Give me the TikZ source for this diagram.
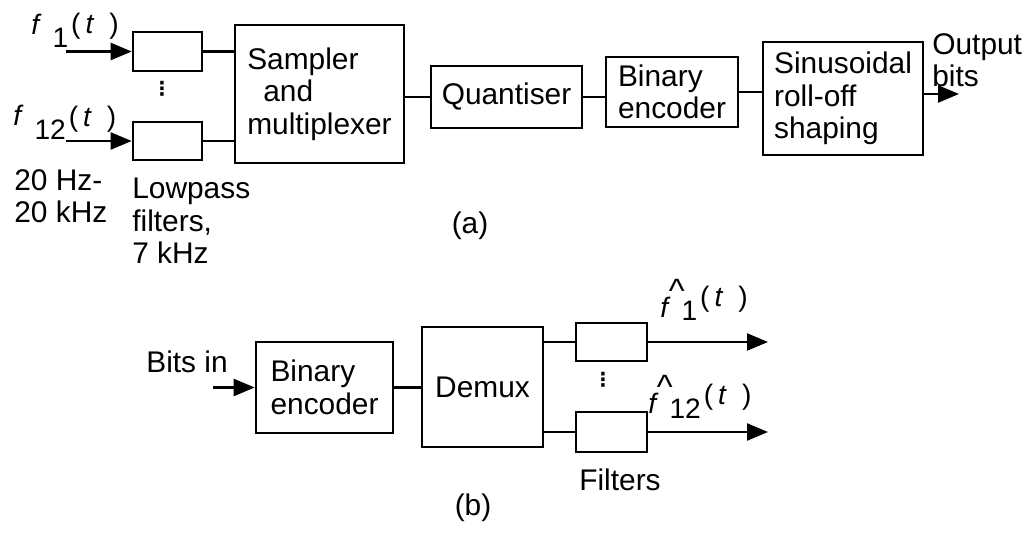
\documentclass[tikz,border=0pt]{standalone}
\usepackage{fontspec}
\setmainfont{Liberation Sans}
\newfontfamily\dotsfont{DejaVu Sans}
\usetikzlibrary{arrows.meta}

\newcommand{\fsig}[3]{\raisebox{#3}{#1}\hspace{0.22cm}#2\hspace{0.06cm}\raisebox{0.28cm}{(\hspace{0.1cm}\textit{t}\hspace{0.3cm})}}
\newcommand{\fhat}{\rlap{\hspace{0.17cm}\raisebox{0.29cm}{\scalebox{1.2}{\textasciicircum}}}\textit{f}}

\begin{document}
\begin{tikzpicture}[x=0.02cm, y=-0.02cm,
	blk/.style={draw, line width=1.5pt, inner sep=0, align=left, font=\fontsize{17}{18.5}\selectfont},
	txt/.style={inner sep=0, align=left, font=\fontsize{17}{18.5}\selectfont},
	lab/.style={inner sep=0, anchor=base west, font=\fontsize{16}{18}\selectfont},
	wire/.style={line width=1.3pt},
	sig/.style={line width=1.3pt, -{Triangle[length=0.42cm, width=0.34cm]}},
	dots/.style={inner sep=0, font=\dotsfont\bfseries\fontsize{11}{11}\selectfont}]

		\useasboundingbox (0,0) rectangle (1033,533);

		% (a) transmitter
		\node[blk, minimum width=1.38cm, minimum height=0.78cm] (lpfA) at (167.5,51.5) {};
		\node[blk, minimum width=1.38cm, minimum height=0.76cm] (lpfB) at (167.5,141) {};
		\node[blk, minimum width=3.38cm, minimum height=2.76cm] (mux) at (319.5,94) {Sampler\\\hspace*{0.32cm}and\\multiplexer};
		\node[blk, minimum width=3.02cm, minimum height=1.24cm] (quant) at (506.5,97) {Quantiser};
		\node[blk, minimum width=2.64cm, minimum height=1.4cm] (encA) at (672,92) {Binary\\encoder};
		\node[blk, minimum width=3.2cm, minimum height=2.26cm] (shape) at (843,98.5) {Sinusoidal\\roll-off\\shaping};

		\coordinate (inA) at (66,51.5);
		\coordinate (inB) at (66,141);
		\coordinate (bitsout) at (959,94);

		\draw[sig] (inA) -- (lpfA.west);
		\draw[sig] (inB) -- (lpfB.west);
		\draw[wire] (lpfA.east) -- (lpfA.east -| mux.west);
		\draw[wire] (lpfB.east) -- (lpfB.east -| mux.west);
		\draw[wire] (quant.west) -- (quant.west -| mux.east);
		\draw[wire] (quant.east) -- (quant.east -| encA.west);
		\draw[wire] (encA.east) -- (encA.east -| shape.west);
		\draw[sig] (shape.east |- bitsout) -- (bitsout);

		\node[lab] (fA) at (31,48) {\fsig{\textit{f}}{1}{0.26cm}};
		\node[lab] (fB) at (13,140) {\fsig{\textit{f}}{12}{0.3cm}};
		\node[dots] (dotsA) at (162,89) {⋮};
		\node[txt, anchor=west] (range) at (14,196) {20 Hz-\\20 kHz};
		\node[txt, anchor=west] (lpfnote) at (132,221) {Lowpass\\filters,\\7 kHz};
		\node[txt, anchor=west] (bitsA) at (932,60) {Output\\bits};
		\node[txt] (capA) at (470,226) {(a)};

		% (b) receiver
		\node[blk, minimum width=2.74cm, minimum height=1.82cm] (encB) at (324.5,387.5) {Binary\\encoder};
		\node[blk, minimum width=2.42cm, minimum height=2.4cm] (demux) at (482.5,387) {Demux};
		\node[blk, minimum width=1.42cm, minimum height=0.76cm] (filtA) at (611.5,342) {};
		\node[blk, minimum width=1.42cm, minimum height=0.8cm] (filtB) at (611.5,432) {};

		\coordinate (bitsin) at (213,387.5);
		\coordinate (outA) at (768,342);
		\coordinate (outB) at (768,432);

		\draw[sig] (bitsin) -- (encB.west);
		\draw[wire] (encB.east) -- (encB.east -| demux.west);
		\draw[wire] (filtA.west) -- (filtA.west -| demux.east);
		\draw[wire] (filtB.west) -- (filtB.west -| demux.east);
		\draw[sig] (filtA.east) -- (outA);
		\draw[sig] (filtB.east) -- (outB);

		\node[txt] (bitsB) at (187,362) {Bits in};
		\node[dots] (dotsB) at (603,380) {⋮};
		\node[txt, anchor=west] (filtnote) at (579,480) {Filters};
		\node[txt] (capB) at (473,508) {(b)};
		\node[lab] (fC) at (660,320) {\fsig{\fhat}{1}{0.06cm}};
		\node[lab] (fD) at (648,418) {\fsig{\fhat}{12}{0.1cm}};

\end{tikzpicture}
\end{document}
